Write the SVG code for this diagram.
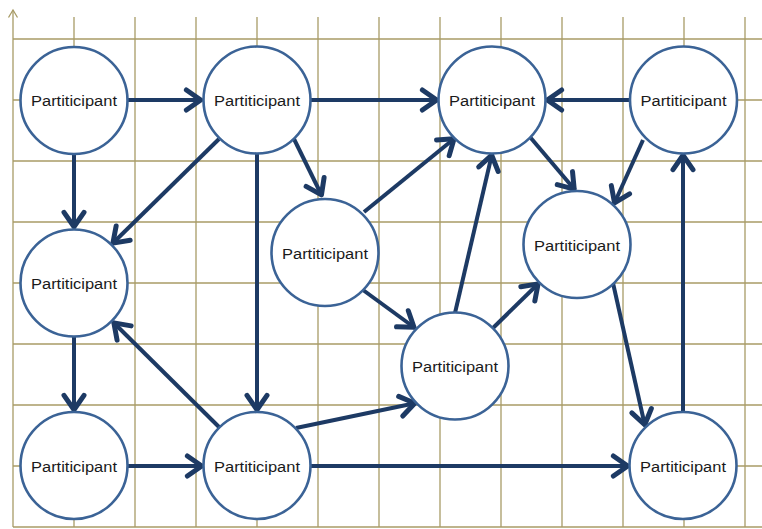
<svg xmlns="http://www.w3.org/2000/svg" width="762" height="529" viewBox="0 0 762 529">
<style>
.grid line{stroke:#a89b66;stroke-width:1.3}
.node circle{fill:#fff;stroke:#3b6396;stroke-width:2.6}
.node text{font-family:"Liberation Sans",Arial,sans-serif;font-size:15.5px;fill:#1a1a1a;text-anchor:middle}
.edges line{stroke:#1d3a64;stroke-width:4;marker-end:url(#ah)}
</style>
<defs>
<marker id="ah" markerUnits="userSpaceOnUse" markerWidth="30" markerHeight="30" viewBox="-15 -12 18 24" refX="0" refY="0" orient="auto" overflow="visible">
<path d="M-12.5,-8 L-1,0 L-12.5,8" fill="none" stroke="#1d3a64" stroke-width="4" stroke-linecap="round" stroke-linejoin="round"/>
</marker>
</defs>
<rect width="762" height="529" fill="#fff"/>
<g id="grid" class="grid">
<line x1="74" y1="17" x2="74" y2="527"/>
<line x1="135" y1="17" x2="135" y2="527"/>
<line x1="196" y1="17" x2="196" y2="527"/>
<line x1="257" y1="17" x2="257" y2="527"/>
<line x1="318" y1="17" x2="318" y2="527"/>
<line x1="379" y1="17" x2="379" y2="527"/>
<line x1="440" y1="17" x2="440" y2="527"/>
<line x1="501" y1="17" x2="501" y2="527"/>
<line x1="562" y1="17" x2="562" y2="527"/>
<line x1="623" y1="17" x2="623" y2="527"/>
<line x1="684" y1="17" x2="684" y2="527"/>
<line x1="745" y1="17" x2="745" y2="527"/>
<line x1="13" y1="39" x2="762" y2="39"/>
<line x1="13" y1="100" x2="762" y2="100"/>
<line x1="13" y1="161" x2="762" y2="161"/>
<line x1="13" y1="222" x2="762" y2="222"/>
<line x1="13" y1="283" x2="762" y2="283"/>
<line x1="13" y1="344" x2="762" y2="344"/>
<line x1="13" y1="405" x2="762" y2="405"/>
<line x1="13" y1="466" x2="762" y2="466"/>
<line x1="13" y1="527" x2="762" y2="527"/>
<line x1="13" y1="10" x2="13" y2="527"/>
<path d="M8.5,17.5 L13,10 L17.5,17.5" fill="none" stroke="#a89b66" stroke-width="1.3"/>
</g>
<g id="connectors" class="edges">
<line x1="128" y1="100" x2="202" y2="100"/>
<line x1="311" y1="100" x2="438" y2="100"/>
<line x1="630" y1="100" x2="546" y2="100"/>
<line x1="74" y1="154" x2="74" y2="228"/>
<line x1="219" y1="139" x2="112" y2="244"/>
<line x1="257" y1="153" x2="257" y2="411"/>
<line x1="294" y1="139" x2="322" y2="196"/>
<line x1="364" y1="212" x2="455" y2="138"/>
<line x1="363" y1="290" x2="415" y2="328"/>
<line x1="530" y1="137" x2="575" y2="190"/>
<line x1="643" y1="140" x2="614" y2="204"/>
<line x1="455" y1="313" x2="492" y2="154"/>
<line x1="493" y1="328" x2="539" y2="283"/>
<line x1="74" y1="337" x2="74" y2="411"/>
<line x1="219" y1="427" x2="113" y2="322"/>
<line x1="128" y1="466" x2="203" y2="466"/>
<line x1="296" y1="428" x2="416" y2="403"/>
<line x1="311" y1="466" x2="629" y2="466"/>
<line x1="613" y1="283" x2="645" y2="426"/>
<line x1="683" y1="412" x2="683" y2="154"/>
</g>
<g id="n1" class="node"><circle cx="74" cy="100.5" r="53.5"/><text x="74" y="106" textLength="86" lengthAdjust="spacingAndGlyphs">Partiticipant</text></g>
<g id="n2" class="node"><circle cx="257" cy="100" r="53.5"/><text x="257" y="106" textLength="86" lengthAdjust="spacingAndGlyphs">Partiticipant</text></g>
<g id="n3" class="node"><circle cx="492" cy="100" r="53.5"/><text x="492" y="106" textLength="86" lengthAdjust="spacingAndGlyphs">Partiticipant</text></g>
<g id="n4" class="node"><circle cx="683.5" cy="100" r="53.5"/><text x="683.5" y="106" textLength="86" lengthAdjust="spacingAndGlyphs">Partiticipant</text></g>
<g id="n5" class="node"><circle cx="74" cy="283" r="53.5"/><text x="74" y="289" textLength="86" lengthAdjust="spacingAndGlyphs">Partiticipant</text></g>
<g id="n6" class="node"><circle cx="325" cy="252.5" r="53.5"/><text x="325" y="258.5" textLength="86" lengthAdjust="spacingAndGlyphs">Partiticipant</text></g>
<g id="n7" class="node"><circle cx="577" cy="244.5" r="53.5"/><text x="577" y="250.5" textLength="86" lengthAdjust="spacingAndGlyphs">Partiticipant</text></g>
<g id="n8" class="node"><circle cx="455" cy="366" r="53.5"/><text x="455" y="372" textLength="86" lengthAdjust="spacingAndGlyphs">Partiticipant</text></g>
<g id="n9" class="node"><circle cx="74" cy="465.5" r="53.5"/><text x="74" y="471.5" textLength="86" lengthAdjust="spacingAndGlyphs">Partiticipant</text></g>
<g id="n10" class="node"><circle cx="257" cy="465.5" r="53.5"/><text x="257" y="471.5" textLength="86" lengthAdjust="spacingAndGlyphs">Partiticipant</text></g>
<g id="n11" class="node"><circle cx="683" cy="465.5" r="53.5"/><text x="683" y="471.5" textLength="86" lengthAdjust="spacingAndGlyphs">Partiticipant</text></g>
</svg>
